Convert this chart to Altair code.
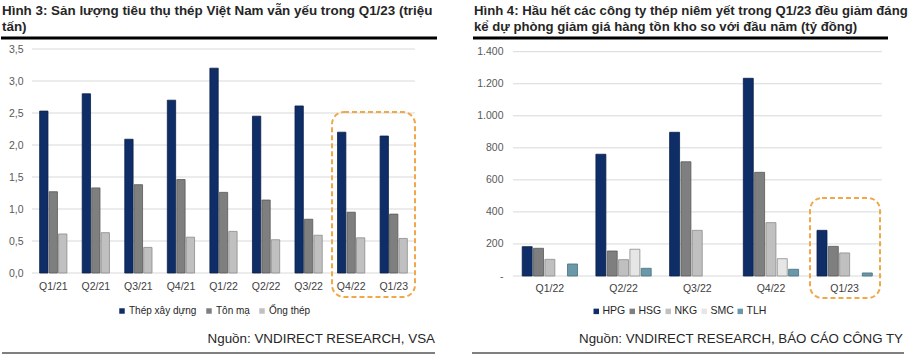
import altair as alt
import pandas as pd

# ---------------- Data: left chart (Hình 3) ----------------
quarters_l = ["Q1/21", "Q2/21", "Q3/21", "Q4/21", "Q1/22", "Q2/22", "Q3/22", "Q4/22", "Q1/23"]
series_l = ["Thép xây dựng", "Tôn mạ", "Ống thép"]
thep_xay_dung = [2.53, 2.80, 2.09, 2.70, 3.20, 2.45, 2.61, 2.20, 2.14]
ton_ma = [1.27, 1.33, 1.38, 1.46, 1.26, 1.14, 0.84, 0.95, 0.92]
ong_thep = [0.61, 0.63, 0.40, 0.56, 0.65, 0.52, 0.59, 0.55, 0.54]
ticks_l = [0, 0.5, 1.0, 1.5, 2.0, 2.5, 3.0, 3.5]

# ---------------- Data: right chart (Hình 4) ----------------
quarters_r = ["Q1/22", "Q2/22", "Q3/22", "Q4/22", "Q1/23"]
series_r = ["HPG", "HSG", "NKG", "SMC", "TLH"]
hpg = [183, 760, 897, 1234, 285]
hsg = [173, 156, 713, 647, 185]
nkg = [104, 102, 285, 333, 144]
smc = [None, 167, None, 108, None]
tlh = [75, 48, None, 42, 19]
ticks_r = [0, 200, 400, 600, 800, 1000, 1200, 1400]

# ---------------- Texts ----------------
title_l = ["Hình 3: Sản lượng tiêu thụ thép Việt Nam vẫn yếu trong Q1/23 (triệu", "tấn)"]
title_r = ["Hình 4: Hầu hết các công ty thép niêm yết trong Q1/23 đều giảm đáng",
           "kể dự phòng giảm giá hàng tồn kho so với đầu năm (tỷ đồng)"]
source_l = ["Nguồn: VNDIRECT RESEARCH, VSA"]
source_r = ["Nguồn: VNDIRECT RESEARCH, BÁO CÁO CÔNG TY"]

FONT = "Liberation Sans"
W, H = 908, 357

# ---------------- Build tables ----------------
rows = []
for name, vals in zip(series_l, [thep_xay_dung, ton_ma, ong_thep]):
    for q, v in zip(quarters_l, vals):
        rows.append({"quarter": q, "series": name, "value": v})
df_l = pd.DataFrame(rows)

rows = []
for name, vals in zip(series_r, [hpg, hsg, nkg, smc, tlh]):
    for q, v in zip(quarters_r, vals):
        if v is not None:
            rows.append({"quarter": q, "series": name, "value": v})
df_r = pd.DataFrame(rows)

one = pd.DataFrame({"a": [0]})

# ---------------- Left panel ----------------
yl_scale = alt.Scale(domain=[0, 3.5], range=[273, 49], nice=False, zero=True)
xl_scale = alt.Scale(domain=quarters_l, range=[32, 415], paddingInner=0.36, paddingOuter=0.18)

grid_l = alt.Chart(pd.DataFrame({"v": ticks_l})).mark_rule(color="#d9d9d9", strokeWidth=1).encode(
    y=alt.Y("v:Q", scale=yl_scale, axis=alt.Axis(
        orient="left", offset=-32, title=None, grid=False, domain=False, ticks=False, tickSize=0,
        labelPadding=9, labelFont=FONT, labelFontSize=10.5, labelColor="#595959", values=ticks_l,
        labelExpr="replace(format(datum.value, '.1f'), '.', ',')")),
    x=alt.value(32), x2=alt.value(415),
)

bars_l = alt.Chart(df_l).mark_bar(strokeWidth=0.8).encode(
    x=alt.X("quarter:N", sort=quarters_l, scale=xl_scale, axis=alt.Axis(
        orient="bottom", offset=-(H - 273), title=None, domain=False, ticks=False, tickSize=0,
        labelPadding=8, labelFont=FONT, labelFontSize=10.5, labelColor="#404040", labelAngle=0)),
    xOffset=alt.XOffset("series:N", sort=series_l,
                        scale=alt.Scale(domain=series_l, paddingInner=0.12, paddingOuter=0)),
    y=alt.Y("value:Q", scale=yl_scale, axis=None),
    color=alt.Color("series:N", sort=series_l,
                    scale=alt.Scale(domain=series_l, range=["#0f2d66", "#7f7f7f", "#c0c0c0"]),
                    legend=alt.Legend(orient="none", legendX=117, legendY=306, direction="horizontal",
                                      title=None, symbolType="square", symbolSize=30, symbolStrokeWidth=0,
                                      labelFont=FONT, labelFontSize=10, labelColor="#262626",
                                      labelOffset=2, columnPadding=7)),
    stroke=alt.Stroke("series:N", sort=series_l,
                      scale=alt.Scale(domain=series_l, range=["#0a1f48", "#595959", "#8c8c8c"]),
                      legend=None),
)

box_l = alt.Chart(one).mark_rect(filled=False, stroke="#f0a848", strokeWidth=2,
                                 strokeDash=[5, 3], cornerRadius=12).encode(
    x=alt.value(332), x2=alt.value(415), y=alt.value(112), y2=alt.value(297))

# ---------------- Right panel ----------------
yr_scale = alt.Scale(domain=[0, 1400], range=[276, 51.7], nice=False, zero=True)
xr_scale = alt.Scale(domain=quarters_r, range=[513, 881.5], paddingInner=0.25, paddingOuter=0.125)

grid_r = alt.Chart(pd.DataFrame({"v": ticks_r})).mark_rule(color="#d9d9d9", strokeWidth=1).encode(
    y=alt.Y("v:Q", scale=yr_scale, axis=alt.Axis(
        orient="left", offset=-513, title=None, grid=False, domain=False, ticks=False, tickSize=0,
        labelPadding=10, labelFont=FONT, labelFontSize=10.5, labelColor="#595959", values=ticks_r,
        labelExpr="datum.value == 0 ? '-' : replace(format(datum.value, ','), ',', '.')")),
    x=alt.value(513), x2=alt.value(882),
)

bars_r = alt.Chart(df_r).mark_bar(strokeWidth=0.8).encode(
    x=alt.X("quarter:N", sort=quarters_r, scale=xr_scale, axis=alt.Axis(
        orient="bottom", offset=-(H - 276), title=None, domain=False, ticks=False, tickSize=0,
        labelPadding=7, labelFont=FONT, labelFontSize=10.5, labelColor="#404040", labelAngle=0)),
    xOffset=alt.XOffset("series:N", sort=series_r,
                        scale=alt.Scale(domain=series_r, paddingInner=0.12, paddingOuter=0)),
    y=alt.Y("value:Q", scale=yr_scale, axis=None),
    color=alt.Color("series:N", sort=series_r,
                    scale=alt.Scale(domain=series_r,
                                    range=["#0f2d66", "#7f7f7f", "#c0c0c0", "#e6e6e6", "#6b98a8"]),
                    legend=alt.Legend(orient="none", legendX=591, legendY=306, direction="horizontal",
                                      title=None, symbolType="square", symbolSize=30, symbolStrokeWidth=0,
                                      labelFont=FONT, labelFontSize=10.5, labelColor="#262626",
                                      labelOffset=1, columnPadding=1)),
    stroke=alt.Stroke("series:N", sort=series_r,
                      scale=alt.Scale(domain=series_r,
                                      range=["#0a1f48", "#595959", "#8c8c8c", "#8c8c8c", "#41707f"]),
                      legend=None),
)

box_r = alt.Chart(one).mark_rect(filled=False, stroke="#f0a848", strokeWidth=2,
                                 strokeDash=[5, 3], cornerRadius=12).encode(
    x=alt.value(810), x2=alt.value(880), y=alt.value(198), y2=alt.value(298))

# ---------------- Titles, sources and rules ----------------
def text_line(txt, x, y, align="left", bold=True, size=13, color="#262626"):
    return alt.Chart(pd.DataFrame({"t": [txt]})).mark_text(
        align=align, baseline="middle", font=FONT, fontSize=size,
        fontWeight="bold" if bold else "normal", color=color).encode(
        text="t:N", x=alt.value(x), y=alt.value(y))

texts = [
    text_line(title_l[0], 2, 11, size=13.4), text_line(title_l[1], 2, 27, size=13.4),
    text_line(title_r[0], 474, 11, size=13.15), text_line(title_r[1], 474, 27, size=13.15),
    text_line(source_l[0], 435, 339, align="right", bold=False, size=13.4),
    text_line(source_r[0], 903, 339, align="right", bold=False, size=13.3),
]

def hrule(x1, x2, y, w):
    return alt.Chart(one).mark_rule(color="#000000", strokeWidth=w).encode(
        x=alt.value(x1), x2=alt.value(x2), y=alt.value(y))

rules = [hrule(1, 437, 38, 3), hrule(473, 888, 38, 3),
         hrule(2, 435, 353, 1), hrule(472, 904, 353, 1)]

chart = alt.layer(
    grid_l, bars_l, box_l, grid_r, bars_r, box_r, *texts, *rules
).resolve_scale(
    x="independent", y="independent", xOffset="independent",
    color="independent", stroke="independent"
).resolve_axis(
    x="independent", y="independent"
).resolve_legend(
    color="independent", stroke="independent"
).properties(
    width=W, height=H, autosize=alt.AutoSizeParams(type="none"), padding=0,
    background="#ffffff"
).configure_view(stroke=None)

chart.save("out.html", embed_options={"renderer": "svg", "actions": False})
